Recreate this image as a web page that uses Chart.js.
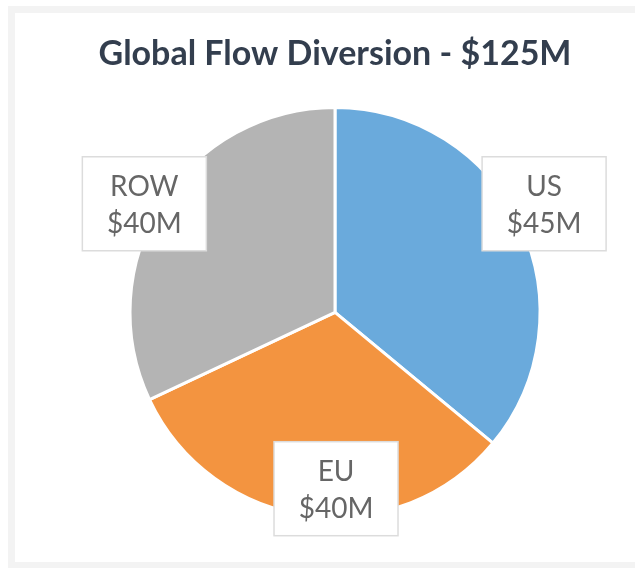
<!DOCTYPE html>
<html>
<head>
<meta charset="utf-8">
<script src="https://cdn.jsdelivr.net/npm/chart.js@4/dist/chart.umd.min.js"></script>
<style>
  html, body { margin: 0; padding: 0; background: #fff; overflow: hidden; }
  #wrap { position: relative; width: 635px; height: 568px; overflow: hidden; }
  #frame { position: absolute; left: 8px; top: 6px; width: 700px; height: 549px;
           border: 7px solid #f3f3f3; border-right: none; }
  canvas { position: absolute; left: 0; top: 0; }
</style>
</head>
<body>
<div id="wrap">
  <div id="frame"></div>
  <canvas id="pieChart" width="635" height="568"></canvas>
</div>
<script>
const regions = ["US", "EU", "ROW"];
const flows = [45, 40, 40];           // $M
const valueLabels = ["$45M", "$40M", "$40M"];
const sliceColors = ['#6aaadc', '#f39440', '#b4b4b4'];

// label box anchor, as a fraction of pie radius from the pie centre
const labelOffsets = [[1.02, -0.53], [0.005, 0.86], [-0.93, -0.53]];

const labelBoxes = {
    id: 'labelBoxes',
    afterDatasetsDraw(chart) {
        const c = chart.ctx;
        const arcs = chart.getDatasetMeta(0).data;
        arcs.forEach((arc, i) => {
            const r = arc.outerRadius;
            const cx = arc.x + labelOffsets[i][0] * r;
            const cy = arc.y + labelOffsets[i][1] * r;
            const w = 124, h = 94;
            c.save();
            c.fillStyle = '#ffffff';
            c.fillRect(cx - w / 2, cy - h / 2, w, h);
            c.strokeStyle = '#dcdcdc';
            c.lineWidth = 1.5;
            c.strokeRect(cx - w / 2, cy - h / 2, w, h);
            c.fillStyle = '#666666';
            c.font = '28px Lato, "Open Sans", sans-serif';
            c.textAlign = 'center';
            c.textBaseline = 'middle';
            c.fillText(regions[i], cx, cy - 17);
            c.fillText(valueLabels[i], cx, cy + 20);
            c.restore();
        });
    }
};

new Chart(document.getElementById('pieChart'), {
    type: 'pie',
    data: {
        labels: regions,
        datasets: [{
            data: flows,
            backgroundColor: sliceColors,
            borderColor: '#ffffff',
            borderWidth: 3,
            hoverOffset: 0
        }]
    },
    options: {
        responsive: false,
        animation: false,
        radius: 205,
        layout: { padding: { left: 50, right: 15, top: 0, bottom: 28 } },
        plugins: {
            legend: { display: false },
            tooltip: { enabled: false },
            title: {
                display: true,
                text: 'Global Flow Diversion - $125M',
                color: '#333e4e',
                font: { family: 'Lato, "Open Sans", sans-serif', size: 34, weight: 'bold' },
                padding: { top: 34, bottom: 10 }
            }
        }
    },
    plugins: [labelBoxes]
});
</script>
</body>
</html>
